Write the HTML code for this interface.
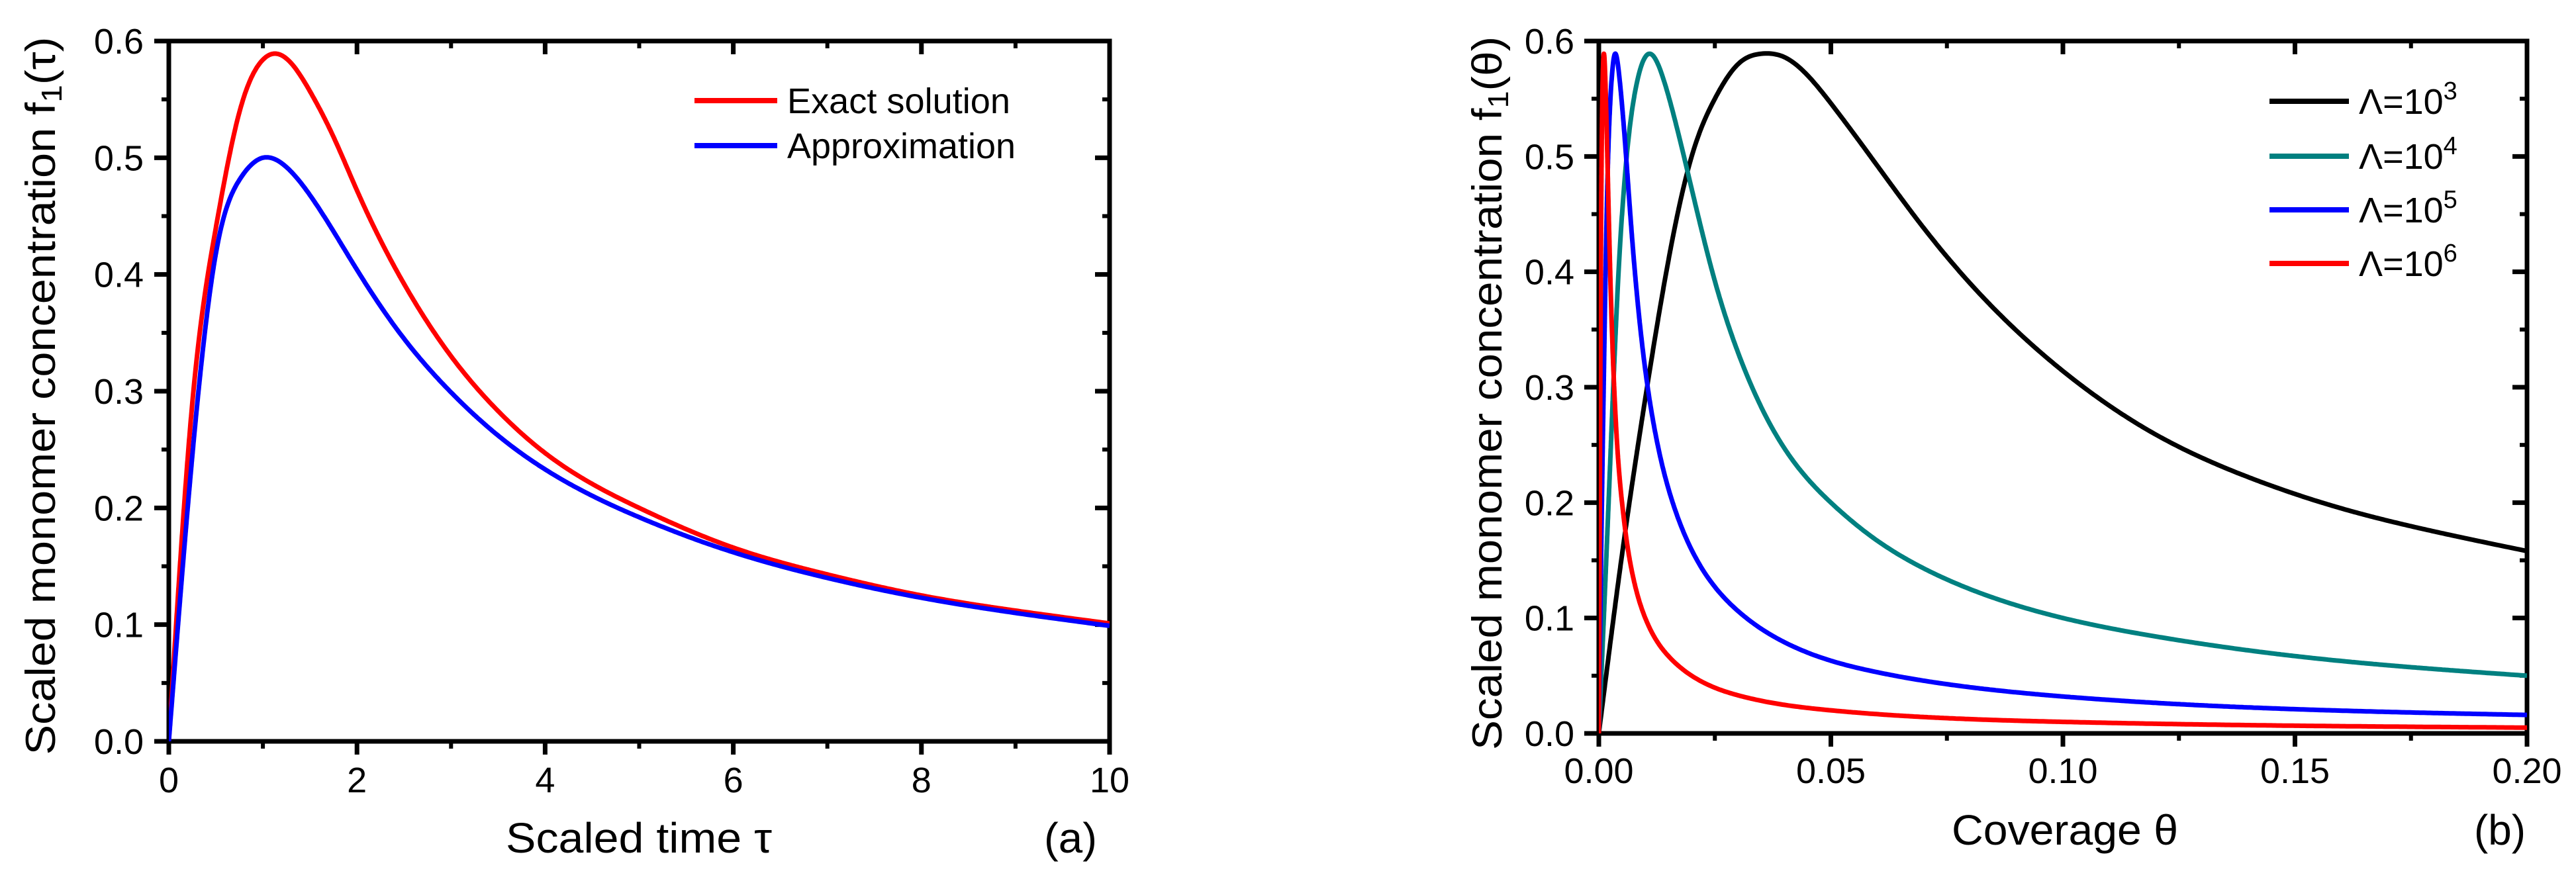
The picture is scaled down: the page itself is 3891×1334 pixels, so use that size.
<!DOCTYPE html>
<html><head><meta charset="utf-8"><style>
html,body{margin:0;padding:0;background:#fff;}
svg{display:block;font-family:"Liberation Sans",Arial,sans-serif;}
</style></head><body>
<svg id="fig" width="3891" height="1334" viewBox="0 0 3891 1334" xmlns="http://www.w3.org/2000/svg">
<defs>
<clipPath id="clipA"><rect x="255" y="62" width="1421" height="1058"/></clipPath>
<clipPath id="clipB"><rect x="2415" y="62" width="1402" height="1046"/></clipPath>
</defs>
<g id="panelA"></g>
<g id="panelB"></g>
</svg>
<script>
// Panel (a) data
const tauA = [0,0.25,0.5,0.75,1,1.1,1.25,1.5,1.75,2,2.5,3,3.5,4,5,6,7,8,9,10];
const exactA = [0,0.29,0.44,0.539,0.584,0.589,0.585,0.557,0.518,0.472,0.392,0.33,0.283,0.247,0.2,0.166,0.143,0.125,0.112,0.101];
const tauB = [0,0.25,0.5,0.75,1,1.25,1.5,1.75,2,2.5,3,3.5,4,5,6,7,8,9,10];
const approxA = [0,0.245,0.418,0.481,0.5,0.492,0.468,0.437,0.404,0.345,0.299,0.262,0.233,0.192,0.162,0.14,0.123,0.11,0.099];
const xTicksA = ["0","2","4","6","8","10"];
const yTicks = ["0.0","0.1","0.2","0.3","0.4","0.5","0.6"];
// Panel (b) data
const th3 = [0,0.005,0.01,0.015,0.02,0.025,0.03,0.035,0.04,0.05,0.06,0.07,0.08,0.09,0.1,0.12,0.14,0.16,0.18,0.2];
const f3 = [0,0.155,0.29,0.41,0.5,0.55,0.58,0.589,0.586,0.546,0.492,0.438,0.39,0.349,0.314,0.259,0.222,0.195,0.175,0.158];
const th4 = [0,0.002,0.004,0.006,0.008,0.011,0.014,0.017,0.02,0.025,0.03,0.04,0.05,0.06,0.07,0.08,0.09,0.1,0.12,0.15,0.2];
const f4 = [0,0.19,0.38,0.5,0.56,0.589,0.566,0.522,0.472,0.392,0.33,0.247,0.2,0.167,0.143,0.125,0.111,0.1,0.084,0.067,0.05];
const th5 = [0,0.0005,0.001,0.0015,0.002,0.0025,0.0035,0.0045,0.0055,0.007,0.009,0.012,0.016,0.02,0.025,0.03,0.04,0.05,0.06,0.08,0.1,0.15,0.2];
const f5 = [0,0.155,0.29,0.41,0.5,0.55,0.589,0.566,0.52,0.438,0.349,0.264,0.199,0.159,0.127,0.106,0.079,0.063,0.053,0.04,0.032,0.021,0.016];
const th6 = [0,0.0002,0.0004,0.0006,0.0008,0.0011,0.0014,0.0017,0.002,0.0025,0.003,0.004,0.005,0.006,0.007,0.008,0.01,0.0125,0.015,0.02,0.03,0.05,0.1,0.2];
const f6 = [0,0.19,0.38,0.5,0.56,0.589,0.566,0.522,0.472,0.392,0.33,0.247,0.2,0.167,0.143,0.125,0.1,0.08,0.067,0.05,0.033,0.02,0.01,0.005];
const xTicksB = ["0.00","0.05","0.10","0.15","0.20"];

const NS="http://www.w3.org/2000/svg";
function mk(tag,attrs,parent){const e=document.createElementNS(NS,tag);for(const k in attrs)e.setAttribute(k,attrs[k]);parent.appendChild(e);return e;}
// natural cubic spline, sampled densely in screen space
function splinePath(xs,ys,sx,sy){
  const n=xs.length,h=[],M=new Array(n).fill(0);
  for(let i=0;i<n-1;i++)h.push(xs[i+1]-xs[i]);
  const a=new Array(n).fill(0),b=new Array(n).fill(1),c=new Array(n).fill(0),r=new Array(n).fill(0);
  for(let i=1;i<n-1;i++){a[i]=h[i-1];b[i]=2*(h[i-1]+h[i]);c[i]=h[i];r[i]=6*((ys[i+1]-ys[i])/h[i]-(ys[i]-ys[i-1])/h[i-1]);}
  for(let i=1;i<n;i++){const w=a[i]/b[i-1];b[i]-=w*c[i-1];r[i]-=w*r[i-1];}
  M[n-1]=r[n-1]/b[n-1];
  for(let i=n-2;i>=0;i--)M[i]=(r[i]-c[i]*M[i+1])/b[i];
  let s="M"+sx(xs[0]).toFixed(1)+","+sy(ys[0]).toFixed(1);
  for(let i=0;i<n-1;i++){
    const px=Math.max(6,Math.ceil(Math.hypot(sx(xs[i+1])-sx(xs[i]),sy(ys[i+1])-sy(ys[i]))/3));
    for(let k=1;k<=px;k++){
      const t=k/px,x=xs[i]+t*h[i],A=1-t,B=t;
      const y=A*ys[i]+B*ys[i+1]+((A*A*A-A)*M[i]+(B*B*B-B)*M[i+1])*h[i]*h[i]/6;
      s+=" L"+sx(x).toFixed(1)+","+sy(y).toFixed(1);
    }
  }
  return s;
}
function axes(g,L,R,T,B,xmax,xTicks,xMajorStep,xMinorStep,xLabY,yLabX,ymax){
  const sx=v=>L+(R-L)*v/xmax, sy=v=>B-(B-T)*v/ymax;
  const nMin=Math.round(xmax/xMinorStep);
  for(let i=0;i<=nMin;i++){
    const v=i*xMinorStep, x=sx(v), major=Math.abs((v/xMajorStep)-Math.round(v/xMajorStep))<1e-6;
    const len=major?20:11;
    let t=mk('line',{x1:x,y1:B,x2:x,y2:B+len,stroke:'#000','stroke-width':major?7:6},g);
    
    
    t=mk('line',{x1:x,y1:T,x2:x,y2:T+len,stroke:'#000','stroke-width':major?7:6},g);
    
    
  }
  for(let i=0;i<=12;i++){
    const v=i*0.05, y=sy(v), major=i%2===0, len=major?22:11;
    let t=mk('line',{x1:L,y1:y,x2:L-len,y2:y,stroke:'#000','stroke-width':major?7:6},g);
    
    
    t=mk('line',{x1:R,y1:y,x2:R-len,y2:y,stroke:'#000','stroke-width':major?7:6},g);
    
    
  }
  xTicks.forEach((s,i)=>{
    const t=mk('text',{x:sx(i*xMajorStep),y:xLabY,'text-anchor':'middle','font-size':54},g);
    t.textContent=s;
    
    
  });
  yTicks.forEach((s,i)=>{
    const t=mk('text',{x:yLabX,y:sy(i*0.1)+19,'text-anchor':'end','font-size':54},g);
    t.textContent=s;
    
    
  });
  const fr=mk('rect',{x:L,y:T,width:R-L,height:B-T,fill:'none',stroke:'#000','stroke-width':7},g);
  
  
  return [sx,sy];
}
function series(g,xs,ys,sx,sy,color,clip,name){
  const p=mk('path',{d:splinePath(xs,ys,sx,sy),fill:'none',stroke:color,'stroke-width':7,'stroke-linejoin':'round','clip-path':clip},g);
  
  
}
function text(g,x,y,size,str,name,anchor,len,rot){
  const a={x:x,y:y,'font-size':size,'text-anchor':anchor||'start'};
  if(len){a.textLength=len;a.lengthAdjust='spacingAndGlyphs';}
  if(rot)a.transform='rotate(-90 '+x+' '+y+')';
  const t=mk('text',a,g);t.innerHTML=str;
  
  
  return t;
}
// Panel A
const gA=document.getElementById('panelA');
const [sxA,syA]=axes(gA,255,1676,62,1120,10,xTicksA,2,1,1197,217,0.6);
series(gA,tauA,exactA,sxA,syA,'#ff0000','url(#clipA)','exact-solution-line');
series(gA,tauB,approxA,sxA,syA,'#0000ff','url(#clipA)','approximation-line');
text(gA,764,1288,64,'Scaled time τ','x-axis-title','start',402);
text(gA,1577,1288,64,'(a)','panel-label-a','start',80);
text(gA,83,598,63,'Scaled monomer concentration f<tspan font-size="44" dy="10">1</tspan><tspan dy="-10">(τ)</tspan>','y-axis-title','middle',1085,true);
let lg=mk('g',{},gA);
[['#ff0000','Exact solution',152],['#0000ff','Approximation',220]].forEach(e=>{
  const l=mk('line',{x1:1049,y1:e[2],x2:1174,y2:e[2],stroke:e[0],'stroke-width':8},lg);
  
  
  text(lg,1189,e[2]+19,54,e[1],'legend-entry','start',e[1]==='Exact solution'?337:345);
});
// Panel B
const gB=document.getElementById('panelB');
const [sxB,syB]=axes(gB,2415,3817,62,1108,0.2,xTicksB,0.05,0.025,1183,2378,0.6);
series(gB,th3,f3,sxB,syB,'#000000','url(#clipB)','lambda-1e3-line');
series(gB,th4,f4,sxB,syB,'#008080','url(#clipB)','lambda-1e4-line');
series(gB,th5,f5,sxB,syB,'#0000ff','url(#clipB)','lambda-1e5-line');
series(gB,th6,f6,sxB,syB,'#ff0000','url(#clipB)','lambda-1e6-line');
text(gB,2948,1276,64,'Coverage θ','x-axis-title','start',342);
text(gB,3737,1276,64,'(b)','panel-label-b','start',78);
text(gB,2268,594,63,'Scaled monomer concentration f<tspan font-size="44" dy="10">1</tspan><tspan dy="-10">(θ)</tspan>','y-axis-title','middle',1078,true);
let lgB=mk('g',{},gB);
[['#000000','3',153],['#008080','4',236],['#0000ff','5',317],['#ff0000','6',398]].forEach(e=>{
  const l=mk('line',{x1:3428,y1:e[2],x2:3548,y2:e[2],stroke:e[0],'stroke-width':8},lgB);
  
  
  text(lgB,3563,e[2]+19,54,'Λ=10<tspan font-size="38" dy="-22">'+e[1]+'</tspan>','legend-entry','start');
});
</script>
</body></html>
